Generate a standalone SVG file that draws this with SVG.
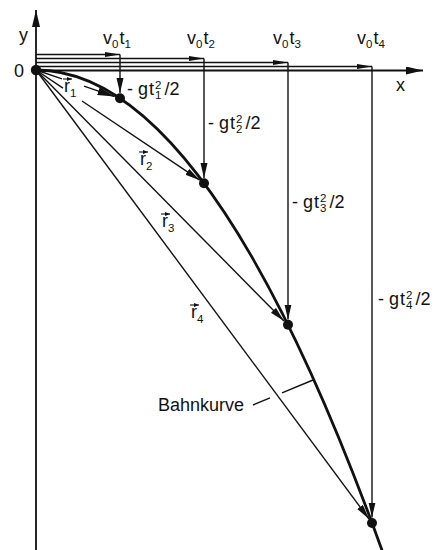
<svg xmlns="http://www.w3.org/2000/svg" width="439" height="550" viewBox="0 0 439 550">
<style>
  text { font-family: "Liberation Sans", Arial, sans-serif; fill: #111; }
  .lbl { font-size: 18px; }
  .sc { font-size: 11.5px; }
  .ax { stroke: #111; stroke-width: 1.8; fill: none; }
  .thin { stroke: #111; stroke-width: 1.4; fill: none; }
  .curve { stroke: #111; stroke-width: 2.8; fill: none; }
  .dot { fill: #111; }
  .vecbar { stroke: #111; stroke-width: 1.1; fill: none; }
</style>
<defs>
  <marker id="ah" markerUnits="userSpaceOnUse" markerWidth="16" markerHeight="8" refX="15" refY="3.5" orient="auto">
    <path d="M0,0 L15,3.5 L0,7 z" fill="#111"/>
  </marker>
  <marker id="ahb" markerUnits="userSpaceOnUse" markerWidth="18" markerHeight="9" refX="17" refY="4" orient="auto">
    <path d="M0,0 L17,4 L0,8 z" fill="#111"/>
  </marker>
  <marker id="ahs" markerUnits="userSpaceOnUse" markerWidth="16" markerHeight="6" refX="15" refY="2.5" orient="auto">
    <path d="M0,0 L15,2.5 L0,5 z" fill="#111"/>
  </marker>
  <marker id="ahv" markerUnits="userSpaceOnUse" markerWidth="6" markerHeight="4" refX="5" refY="2" orient="auto">
    <path d="M0,0 L5,2 L0,4 z" fill="#111"/>
  </marker>
</defs>

<g id="axes">
  <line class="ax" x1="36" y1="550" x2="36" y2="10" marker-end="url(#ahb)"/>
  <line class="ax" x1="36" y1="70.5" x2="423" y2="70.5" marker-end="url(#ahb)"/>
  <text class="lbl" x="19" y="41">y</text>
  <text class="lbl" x="396" y="91">x</text>
  <text class="lbl" x="14" y="77">0</text>
</g>

<g id="connectors">
  <!-- horizontal displacement arrows -->
  <line class="thin" x1="36" y1="54.5" x2="120" y2="54.5" marker-end="url(#ahs)"/>
  <line class="thin" x1="36" y1="58.5" x2="204" y2="58.5" marker-end="url(#ahs)"/>
  <line class="thin" x1="36" y1="62.5" x2="288" y2="62.5" marker-end="url(#ahs)"/>
  <line class="thin" x1="36" y1="66.5" x2="372" y2="66.5" marker-end="url(#ahs)"/>
  <!-- vertical drop arrows -->
  <line class="thin" x1="120" y1="54.5" x2="120" y2="93" marker-end="url(#ah)"/>
  <line class="thin" x1="204" y1="58.5" x2="204" y2="178" marker-end="url(#ah)"/>
  <line class="thin" x1="288" y1="62.5" x2="288" y2="319.5" marker-end="url(#ah)"/>
  <line class="thin" x1="372" y1="66.5" x2="372" y2="517.5" marker-end="url(#ah)"/>
  <!-- position vectors -->
  <line class="thin" x1="36" y1="70" x2="62" y2="78.8"/>
  <line class="thin" x1="84" y1="86.2" x2="114.5" y2="96.6" stroke-width="1.6" marker-end="url(#ahb)"/>
  <line class="thin" x1="36" y1="70" x2="63" y2="88.2"/>
  <line class="thin" x1="82" y1="101" x2="199.8" y2="180.2" marker-end="url(#ah)"/>
  <line class="thin" x1="36" y1="70" x2="284" y2="321" marker-end="url(#ah)"/>
  <line class="thin" x1="36" y1="70" x2="369" y2="519" marker-end="url(#ah)"/>
  <!-- trajectory -->
  <path class="curve" d="M36,70 Q209.5,70 383,553"/>
  <!-- leader -->
  <line class="thin" x1="253" y1="405" x2="270" y2="397.9"/>
  <line class="thin" x1="282" y1="392.9" x2="313" y2="380"/>
</g>

<g id="origin"><circle class="dot" cx="36" cy="70" r="5.2"/></g>
<g id="p1"><circle class="dot" cx="120" cy="98.3" r="5"/></g>
<g id="p2"><circle class="dot" cx="204" cy="183.2" r="5"/></g>
<g id="p3"><circle class="dot" cx="288" cy="324.7" r="5"/></g>
<g id="p4"><circle class="dot" cx="372" cy="523" r="5"/></g>

<g id="labels-v">
  <text class="lbl" x="103" y="44">v<tspan class="sc" dy="4">0</tspan><tspan dy="-4" dx="1">t</tspan><tspan class="sc" dy="4">1</tspan></text>
  <text class="lbl" x="187" y="44">v<tspan class="sc" dy="4">0</tspan><tspan dy="-4" dx="1">t</tspan><tspan class="sc" dy="4">2</tspan></text>
  <text class="lbl" x="273" y="44">v<tspan class="sc" dy="4">0</tspan><tspan dy="-4" dx="1">t</tspan><tspan class="sc" dy="4">3</tspan></text>
  <text class="lbl" x="357" y="44">v<tspan class="sc" dy="4">0</tspan><tspan dy="-4" dx="1">t</tspan><tspan class="sc" dy="4">4</tspan></text>
</g>

<g id="labels-g">
  <text class="lbl" x="127" y="95">- g<tspan dx="1">t</tspan><tspan class="sc" dx="1" dy="-6">2</tspan><tspan class="sc" dx="-6.4" dy="10">1</tspan><tspan dx="3" dy="-4">/2</tspan></text>
  <text class="lbl" x="208" y="129">- g<tspan dx="1">t</tspan><tspan class="sc" dx="1" dy="-6">2</tspan><tspan class="sc" dx="-6.4" dy="10">2</tspan><tspan dx="3" dy="-4">/2</tspan></text>
  <text class="lbl" x="292" y="208">- g<tspan dx="1">t</tspan><tspan class="sc" dx="1" dy="-6">2</tspan><tspan class="sc" dx="-6.4" dy="10">3</tspan><tspan dx="3" dy="-4">/2</tspan></text>
  <text class="lbl" x="378" y="305">- g<tspan dx="1">t</tspan><tspan class="sc" dx="1" dy="-6">2</tspan><tspan class="sc" dx="-6.4" dy="10">4</tspan><tspan dx="3" dy="-4">/2</tspan></text>
</g>

<g id="labels-r">
  <text class="lbl" x="64" y="92">r<tspan class="sc" dy="5">1</tspan></text>
  <line class="vecbar" x1="63" y1="79" x2="72" y2="79" marker-end="url(#ahv)"/>
  <text class="lbl" x="140" y="165">r<tspan class="sc" dy="5">2</tspan></text>
  <line class="vecbar" x1="139" y1="152" x2="148" y2="152" marker-end="url(#ahv)"/>
  <text class="lbl" x="162" y="227">r<tspan class="sc" dy="5">3</tspan></text>
  <line class="vecbar" x1="161" y1="214" x2="170" y2="214" marker-end="url(#ahv)"/>
  <text class="lbl" x="191" y="318">r<tspan class="sc" dy="5">4</tspan></text>
  <line class="vecbar" x1="190" y1="305" x2="199" y2="305" marker-end="url(#ahv)"/>
</g>

<g id="bahnkurve">
  <text class="lbl" x="158" y="411">Bahnkurve</text>
</g>
</svg>
